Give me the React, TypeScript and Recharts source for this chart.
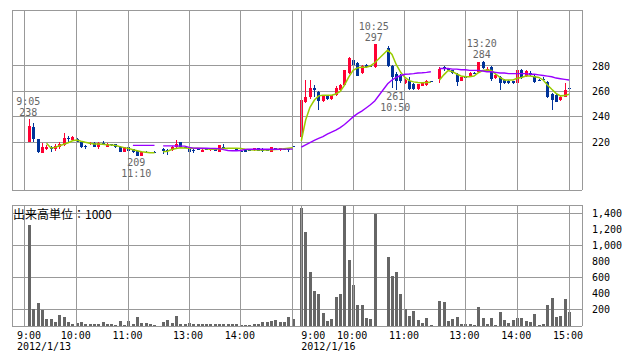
import React from 'react';
import { ComposedChart, Bar, Line, XAxis, YAxis, CartesianGrid, ReferenceLine, ReferenceDot } from 'recharts';

// x position of every 5-minute bar, in 5-minute steps (0 = 1/13 9:00, 64 = 1/16 9:00)
const range = (a: number, b: number) => Array.from({ length: b - a + 1 }, (_, i) => a + i);
const slots = [...range(1, 30), ...range(32, 62), ...range(64, 81), ...range(84, 94), ...range(96, 126)];
const sessionBreaks = [31, 63, 95];

const opens = [
  220, 232, 222.5, 211.5, 215, 216, 215, 216, 217.5, 223.5, 222, 222.5, 220, 217, 218.5, 219.5, 216, 219.5, 216.5, 218.5, 218.5, 216.5, 212.5, 216, 214.5, 213, 209.5, 212.5, 212.5, 212.5,
  214.5, 214, 214, 216, 220, 216, 215.5, 214, 214.5, 212.7, 214.5, 214, 215.3, 212, 216, 215.3, 215.3, 214.5, 213.2, 214.5, 214, 214, 215.3, 214.5, 214, 212.6, 215.3, 214, 214.5, 215, 217,
  224.5, 252, 255.5, 262.5, 259.5, 252.5, 257, 254, 257, 261, 265, 274.5, 285, 282, 274.5, 280.5, 280, 279,
  294, 280, 274, 272, 266.5, 268, 266, 262, 264.5, 265, 268.5,
  270, 279, 277.5, 276.5, 274, 268.5, 271.5, 272, 274.5, 275.5, 283.5, 275.5, 279.5, 270.5, 271, 269, 268.5, 268, 266.5, 276.5, 272, 274.5, 272, 269, 270, 267.5, 258, 257, 253, 256, 263,
];
const highs = [
  238, 235.5, 222.5, 219.5, 218, 217, 219, 220, 227, 225, 225, 223.5, 221, 217.5, 220, 220, 220, 221, 219.5, 219, 218.5, 217, 216, 216.5, 215, 213.5, 213, 213, 212.5, 213,
  215.5, 215, 217, 222, 220.5, 216.5, 216, 215, 215, 214.5, 215, 215.5, 215.5, 218, 219, 215.5, 215.5, 215, 213.5, 215, 214.5, 215.5, 215.5, 215.3, 214.5, 216.5, 215.5, 215.5, 215, 215.3, 217,
  254, 269, 269, 265, 260, 257.5, 257.5, 257.5, 264, 265.5, 277, 287, 286, 283, 280.5, 281.5, 280.5, 297,
  296, 281, 275, 274, 270, 271, 267, 266, 267.5, 269, 268.5,
  279, 280, 278, 277, 274.5, 271.5, 272, 275, 275, 283.5, 284, 279, 280, 273.5, 272, 269.5, 269, 268.5, 278, 277.5, 276.5, 276, 273, 269.5, 271, 268, 258.5, 258, 257, 267, 263.5,
];
const lows = [
  220, 220, 211.5, 211.5, 214, 212, 213.5, 215, 217, 220, 221, 220, 215.5, 214.5, 218, 216, 215, 218, 216, 217, 215.5, 212, 212.5, 212.5, 211.5, 209, 209.5, 212, 212.5, 212.5,
  210.5, 210, 213, 215.5, 215.5, 215.5, 212, 211.5, 214, 212.5, 214, 213.5, 213, 212, 214.5, 215, 214.5, 213, 213, 212.5, 213.5, 213.5, 213, 212, 213.5, 212.5, 215, 213.5, 214, 212.6, 217,
  217, 250.5, 254, 256, 245.5, 252, 253.5, 253.5, 256.5, 260.5, 264.5, 274, 280.5, 272, 274, 278.5, 279, 278.5,
  279.5, 263, 261, 267, 266, 261.5, 261.5, 261.5, 264, 264.5, 268.5,
  266.5, 276, 276.5, 274, 264.5, 268, 271, 271.5, 273.5, 275, 277.5, 275, 268.5, 270, 261, 266, 266, 266, 266, 270, 271.5, 272.5, 266.5, 268, 268.5, 255, 245, 251.5, 252.5, 255.5, 262.5,
];
const closes = [
  232.5, 222.5, 212, 216, 216.5, 215, 217, 219, 223.5, 222.5, 224.5, 220.5, 216, 216, 219.5, 216.5, 219.5, 219, 219, 217.5, 216, 212.5, 216, 213, 212, 209, 212.5, 212, 212.5, 212.5,
  213, 213, 216.5, 219, 216, 216, 212.5, 213.5, 214.5, 214, 214.5, 215.3, 213.2, 217.5, 215, 215.3, 215, 213.5, 213.2, 212.6, 214, 215.3, 213.5, 213.5, 214, 216, 215.3, 215.3, 214.5, 214, 217,
  253.5, 256, 262.5, 261.5, 252.5, 257, 254, 257, 263, 265, 277, 286, 281, 272.5, 280, 279.5, 279.5, 297,
  280, 271, 268.5, 268, 269, 262, 262, 265.5, 267, 268.5, 268.5,
  278, 277.5, 277, 274.5, 267.5, 271, 271.5, 274.5, 274, 283, 278.5, 278, 269.5, 273, 266.5, 266.5, 266.5, 266.5, 277, 270.5, 276, 273, 267.5, 268.5, 269, 256, 253.5, 252, 256, 261.5, 263,
];
// 出来高 (x1000)
const volumes = [
  1250, 210, 290, 200, 85, 85, 50, 140, 115, 50, 30, 40, 50, 20, 25, 25, 25, 50, 25, 25, 12, 60, 12, 60, 25, 115, 40, 40, 25, 12,
  50, 75, 40, 130, 30, 30, 40, 25, 20, 25, 25, 25, 20, 25, 25, 25, 20, 20, 15, 15, 15, 25, 20, 50, 50, 60, 75, 45, 45, 110, 90,
  1465, 1160, 675, 440, 395, 165, 62, 87, 365, 395, 1485, 820, 510, 255, 260, 104, 91, 1390,
  850, 615, 675, 400, 210, 130, 185, 75, 40, 100, 12,
  310, 300, 62, 90, 112, 25, 25, 25, 15, 236, 104, 30, 104, 15, 174, 75, 37, 75, 99, 99, 62, 50, 153, 12, 25, 261, 348, 112, 124, 340, 178,
];
// short (green) and long (purple) moving averages as drawn
const ma5 = [
  null, null, null, null, 219.2, 215.5, 216, 217.3, 218.5, 219.7, 221.2, 221.8, 220.8, 220, 219.3, 218.7, 218.6, 218.4, 218, 217.8, 217.4, 216.6, 215.8, 215.2, 214.2, 213.4, 212.6, 212.2, 211.8, 211.8,
  212.6, 213, 214.3, 215.2, 215.7, 215.6, 215.4, 215.3, 215.3, 215.2, 214.9, 214.6, 214.6, 214.9, 215.2, 215.3, 215.3, 215.3, 215.1, 214.6, 214.2, 214, 214, 214, 214, 214.1, 214.3, 214.6, 215, 215.4, 215.8,
  221, 237.5, 247.5, 253, 256.5, 257, 257, 257, 258, 260, 265, 271.5, 276.5, 278.5, 279, 279, 280, 282.5,
  292.5, 289, 281, 275, 271, 268.5, 267.5, 267, 266.8, 267, 267.2,
  269, 273, 276.4, 275.5, 273.7, 272.1, 271.6, 271.6, 272.1, 274.7, 276.4, 276.9, 276.4, 273.7, 271, 269, 269, 269, 270.3, 271, 272.1, 272.1, 271.6, 271, 269, 265.1, 261.7, 258.5, 256.5, 256.7, 257.7,
];
const ma25 = [
  null, null, null, null, null, null, null, null, null, null, null, null, null, null, null, null, null, null, null, null, null, null, null, null, 217.6, 217.6, 217.6, 217.6, 217.6, 217.6,
  217.2, 217.2, 217.2, 217.1, 217, 217, 216, 215.4, 215.3, 215.3, 215.3, 215.2, 215.1, 215, 214.2, 213.6, 213.4, 213.4, 213.6, 214.4, 214.5, 214.5, 214.5, 214.5, 214.5, 214.5, 214.5, 214.5, 214.6, 214.6, 214.6,
  216.2, 218, 219.8, 221.5, 223, 224.5, 226.5, 228, 229.5, 231.5, 234, 237, 240, 242.5, 244.5, 247, 249.5, 252.5,
  266, 269, 271, 272.5, 273.5, 273.7, 274, 274.5, 274.7, 275, 275.5,
  278, 278, 278, 277.5, 277.5, 277, 277, 276.5, 276.5, 276.5, 276, 275.5, 275.5, 275, 274.5, 274.5, 274, 274, 274, 274, 274, 273.5, 273.5, 273, 272.5, 272, 271.5, 270.5, 270, 269.5, 269,
];

// day high / low notes
const markSlots = [1, 26, 81, 86, 106];
const markPrices = [238, 209, 297, 261, 284];
const markTimes = ['9:05', '11:10', '10:25', '10:50', '13:20'];
const markSides = ['high', 'low', 'high', 'low', 'high'];

const timeTicks = [0, 12, 24, 38, 50, 64, 76, 88, 102, 114, 126];
const timeLabels = ['9:00', '10:00', '11:00', '13:00', '14:00', '9:00', '10:00', '11:00', '13:00', '14:00', '15:00'];
const dayStarts = [0, 64];
const dayLabels = ['2012/1/13', '2012/1/16'];
const gridSlots = [-3, 0, 12, 24, 38, 50, 62, 64, 76, 88, 102, 114, 126, 129];
const priceTicks = [220, 240, 260, 280];
const volumeTicks = [200, 400, 600, 800, 1000, 1200, 1400];

const PRICE_DOMAIN: [number, number] = [182.5, 324];
const VOL_DOMAIN: [number, number] = [0, 1500];
const RED = '#ff0033';
const BLUE = '#003399';
const GREEN = '#99cc00';
const PURPLE = '#9900ff';
const GRID = '#999999';
const MONO = 'DejaVu Sans Mono';

const rows = [
  ...slots.map((slot, i) => ({
    slot,
    open: opens[i],
    high: highs[i],
    low: lows[i],
    close: closes[i],
    volume: volumes[i],
    ma5: ma5[i],
    ma25: ma25[i],
  })),
  ...sessionBreaks.map((slot) => ({ slot, ma5: null, ma25: null })),
].sort((a, b) => a.slot - b.slot);

const candleRange = (d: any) => (d.high == null ? undefined : [d.low, d.high]);

const Candle = (props: any) => {
  const { x, y, width, height, payload } = props;
  if (!payload || payload.high == null || !isFinite(y)) return <g />;
  const { open, close, high, low } = payload;
  const top = Math.min(y, y + height);
  const h = Math.abs(height);
  const k = high > low ? h / (high - low) : 0;
  const left = Math.round(x + width / 2 - 1.5);
  const color = close > open ? RED : BLUE;
  const wickTop = Math.round(top);
  const wickBottom = Math.round(top + h);
  const bodyTop = Math.round(top + (high - Math.max(open, close)) * k);
  const bodyBottom = Math.round(top + (high - Math.min(open, close)) * k);
  return (
    <g shapeRendering="crispEdges">
      <rect x={left + 1} y={wickTop} width={1} height={Math.max(1, wickBottom - wickTop)} fill={color} />
      <rect x={left} y={bodyTop} width={3} height={Math.max(1, bodyBottom - bodyTop)} fill={color} />
    </g>
  );
};

const VolumeBar = (props: any) => {
  const { x, y, width, height } = props;
  if (!height || !isFinite(y)) return <g />;
  const left = Math.round(x + width / 2 - 1.5);
  const top = Math.round(y);
  return <rect x={left} y={top} width={3} height={Math.round(y + height) - top} fill="#666666" shapeRendering="crispEdges" />;
};

const MarkLabel = ({ cx, cy, index }: any) => {
  const low = markSides[index] === 'low';
  const lines = low ? [String(markPrices[index]), markTimes[index]] : [markTimes[index], String(markPrices[index])];
  const y0 = low ? cy + 10 : cy - 14;
  return (
    <g>
      {lines.map((t, i) => (
        <text key={i} x={cx - 1} y={y0 + i * 11} textAnchor="middle" fontSize={10} fontFamily={MONO} fill="#666666">
          {t}
        </text>
      ))}
    </g>
  );
};

const TimeTick = ({ x, y, payload }: any) => {
  const i = timeTicks.indexOf(payload.value);
  const d = dayStarts.indexOf(payload.value);
  const style = { fontSize: 10, fontFamily: MONO, fill: '#000000' };
  if (d >= 0) {
    const left = x + (d === 0 ? -8 : 0);
    return (
      <g>
        <text x={left} y={y + 13} textAnchor="start" {...style}>{timeLabels[i]}</text>
        <text x={left} y={y + 24} textAnchor="start" {...style}>{dayLabels[d]}</text>
      </g>
    );
  }
  return (
    <text x={x - 1} y={y + 13} textAnchor="middle" {...style}>
      {timeLabels[i]}
    </text>
  );
};

const tickStyle = { fontSize: 10, fontFamily: MONO, fill: '#000000' };

const frame = (domain: [number, number]) => [
  ...gridSlots.map((s) => (
    <ReferenceLine key={`v${s}`} x={s} stroke={GRID} ifOverflow="visible" shapeRendering="crispEdges" />
  )),
  <ReferenceLine key="top" y={domain[1]} stroke={GRID} ifOverflow="visible" shapeRendering="crispEdges" />,
  <ReferenceLine key="bottom" y={domain[0]} stroke={GRID} ifOverflow="visible" shapeRendering="crispEdges" />,
];

export default function App() {
  return (
    <div style={{ position: 'absolute', left: 0, top: 0, width: 638, height: 362, background: '#ffffff' }}>
      <ComposedChart width={638} height={195} data={rows} margin={{ top: 10, right: 0, bottom: 5, left: 12 }}>
        <CartesianGrid vertical={false} stroke={GRID} shapeRendering="crispEdges" />
        <XAxis type="number" dataKey="slot" domain={[-3, 129]} allowDataOverflow hide />
        <YAxis
          orientation="right"
          width={56}
          domain={PRICE_DOMAIN}
          allowDataOverflow
          ticks={priceTicks}
          axisLine={false}
          tickLine={false}
          tickSize={0}
          tickMargin={10}
          tick={tickStyle}
        />
        {frame(PRICE_DOMAIN)}
        <Bar dataKey={candleRange} barSize={3} shape={(p: any) => <Candle {...p} />} isAnimationActive={false} />
        <Line type="linear" dataKey="ma5" stroke={GREEN} strokeWidth={1.5} dot={false} activeDot={false} isAnimationActive={false} />
        <Line type="linear" dataKey="ma25" stroke={PURPLE} strokeWidth={1.4} dot={false} activeDot={false} isAnimationActive={false} />
        {markSlots.map((s, i) => (
          <ReferenceDot key={s} x={s} y={markPrices[i]} r={0} shape={(p: any) => <MarkLabel {...p} index={i} />} />
        ))}
      </ComposedChart>

      <div style={{ position: 'absolute', left: 0, top: 195 }}>
        <ComposedChart width={638} height={167} data={rows} margin={{ top: 10, right: 0, bottom: 0, left: 12 }}>
          <CartesianGrid vertical={false} stroke={GRID} shapeRendering="crispEdges" />
          <XAxis
            type="number"
            dataKey="slot"
            domain={[-3, 129]}
            allowDataOverflow
            ticks={timeTicks}
            interval={0}
            height={36}
            axisLine={false}
            tickLine={false}
            tickSize={0}
            tickMargin={0}
            tick={(p: any) => <TimeTick {...p} />}
          />
          <YAxis
            orientation="right"
            width={56}
            domain={VOL_DOMAIN}
            allowDataOverflow
            ticks={volumeTicks}
            tickFormatter={(v: number) => v.toLocaleString('en-US')}
            axisLine={false}
            tickLine={false}
            tickSize={0}
            tickMargin={10}
            tick={tickStyle}
          />
          {frame(VOL_DOMAIN)}
          <Bar dataKey="volume" barSize={3} shape={(p: any) => <VolumeBar {...p} />} isAnimationActive={false} />
        </ComposedChart>
        <div
          style={{
            position: 'absolute',
            left: 13,
            top: 11,
            fontFamily: '"Noto Sans CJK JP"',
            fontSize: 12,
            lineHeight: '16px',
            color: '#000000',
            whiteSpace: 'nowrap',
          }}
        >
          出来高単位：1000
        </div>
      </div>
    </div>
  );
}
